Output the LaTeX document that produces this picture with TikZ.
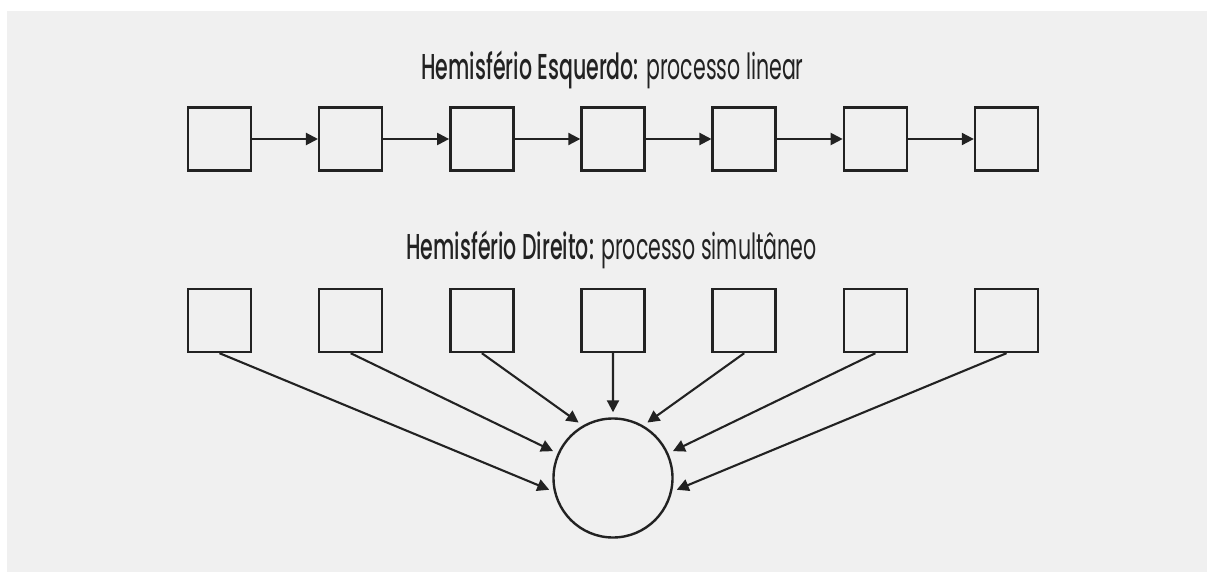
\documentclass[tikz,border=0pt]{standalone}
\usepackage{fontspec}
\setmainfont{Poppins}[FakeStretch=0.57, BoldFont={Poppins Medium}]
\usetikzlibrary{arrows.meta}
\definecolor{bgcol}{HTML}{F0F0F0}
\definecolor{ink}{HTML}{222222}
\tikzset{
  sq/.style={draw=ink, line width=2.4pt, minimum size=63pt, inner sep=0pt},
  ring/.style={circle, draw=ink, line width=2.4pt, minimum size=119pt, inner sep=0pt},
  link/.style={draw=ink, line width=2.1pt, -{Triangle[length=12pt,width=12pt]}},
  title/.style={text=ink, font=\fontsize{36}{40}\selectfont, inner sep=0pt, anchor=base}
}
\begin{document}
\begin{tikzpicture}[x=1pt,y=-1pt]
\useasboundingbox (0,0) rectangle (1207,572);
\fill[bgcol] (7,11) rectangle (1207,572);
\node[title] (t1) at (612.5,80) {\textbf{Hemisfério Esquerdo:} processo linear};
\node[title] (t2) at (611.5,259) {\textbf{Hemisfério Direito:} processo simultâneo};
\foreach \i in {1,...,7}{
  \node[sq] (L\i) at ({219.5+131.17*(\i-1)},139) {};
  \node[sq] (R\i) at ({219.5+131.17*(\i-1)},320.5) {};
}
\node[ring] (c) at (613,478) {};
\foreach \i/\j in {1/2,2/3,3/4,4/5,5/6,6/7}{
  \draw[link] (L\i.east) -- (L\j.west);
}
\foreach \i/\a in {1/193,2/156,3/120,4/90,5/60,6/24,7/-13}{
  \draw[link, shorten >=5pt] (R\i.south) -- (c.\a);
}
\end{tikzpicture}
\end{document}
